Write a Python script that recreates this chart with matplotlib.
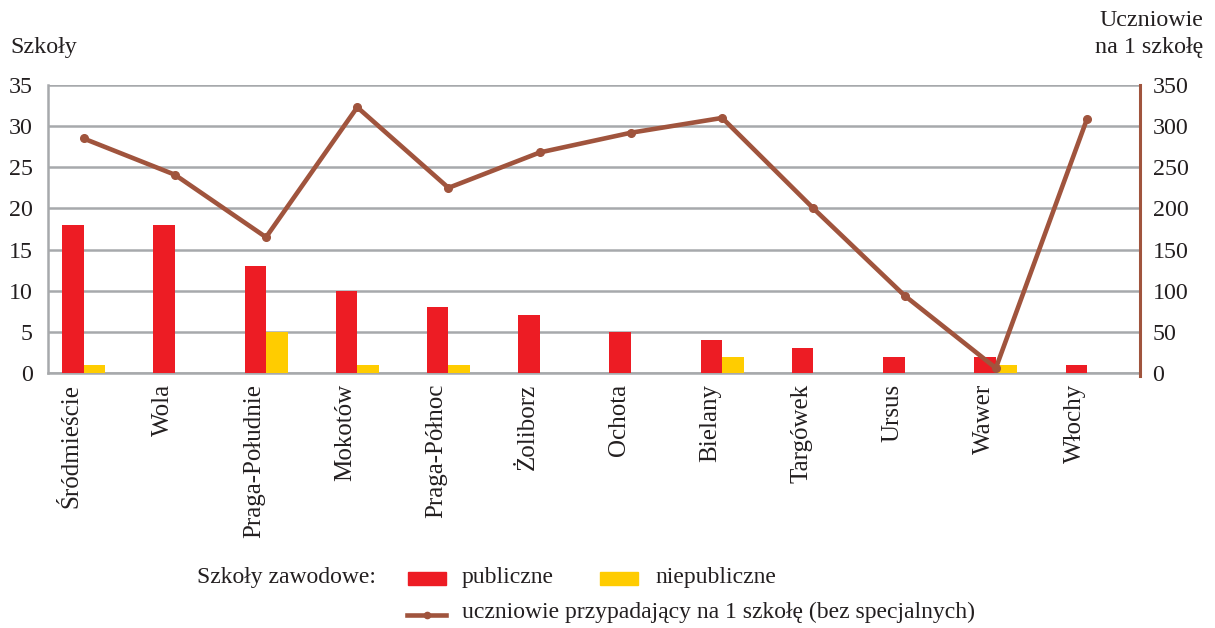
import matplotlib
matplotlib.use("Agg")
import matplotlib.pyplot as plt
from matplotlib.patches import Rectangle
from matplotlib.lines import Line2D
import numpy as np

plt.rcParams['font.family'] = ['Liberation Serif', 'DejaVu Serif']

districts = ["Śródmieście", "Wola", "Praga-Południe", "Mokotów", "Praga-Północ",
             "Żoliborz", "Ochota", "Bielany", "Targówek", "Ursus", "Wawer", "Włochy"]
publiczne = [18, 18, 13, 10, 8, 7, 5, 4, 3, 2, 2, 1]
niepubliczne = [1, 0, 5, 1, 1, 0, 0, 2, 0, 0, 1, 0]
uczniowie = [285, 241, 165, 323, 225, 268, 292, 310, 200, 94, 6, 309]
left_ticks = [0, 5, 10, 15, 20, 25, 30, 35]
right_ticks = [0, 50, 100, 150, 200, 250, 300, 350]

RED = "#ED1C24"
YEL = "#FFCC00"
BROWN = "#A0543D"
GRID = "#A7A9AC"
TXT = '#231F20'
FS = 17.3

fig = plt.figure(figsize=(12.15, 6.28), dpi=100)
ax = fig.add_axes([48/1215, 1-373/628, (1140-48)/1215, (373-85)/628])
x = np.arange(len(districts))
w = 0.236
ax.bar(x - w/2, publiczne, width=w, color=RED, zorder=3)
ax.bar(x + w/2, niepubliczne, width=w, color=YEL, zorder=3)
ax.set_ylim(0, 35)
ax.set_xlim(-0.39, 11.58)
ax.set_yticks(left_ticks)
ax.yaxis.grid(True, color=GRID, lw=1.8, zorder=0)
ax.set_axisbelow(True)
for s in ['top', 'right']:
    ax.spines[s].set_visible(False)
ax.spines['left'].set_color(GRID)
ax.spines['left'].set_linewidth(1.8)
ax.spines['bottom'].set_color(GRID)
ax.spines['bottom'].set_linewidth(1.8)
ax.tick_params(axis='y', length=0, labelsize=FS, pad=11, colors=TXT)
ax.set_xticks(x - 0.13)
ax.set_xticklabels(districts, rotation=90, fontsize=18, color=TXT)
ax.tick_params(axis='x', length=0, pad=8)

ax2 = ax.twinx()
ax2.plot(x, uczniowie, color=BROWN, lw=3.3, marker='o', ms=5.5, zorder=5)
ax2.set_ylim(0, 350)
ax2.set_yticks(right_ticks)
for s in ['top', 'left', 'bottom']:
    ax2.spines[s].set_visible(False)
ax2.spines['right'].set_color(BROWN)
ax2.spines['right'].set_linewidth(2.2)
ax2.spines['right'].set_bounds(-4, 350)
ax2.tick_params(axis='y', length=0, labelsize=FS, pad=9, colors=TXT)
ax2.set_ylim(0, 350)

fig.text(10/1215, 1-48/628, "Szkoły", fontsize=FS, va='center', ha='left', color=TXT)
fig.text(1203/1215, 1-20/628, "Uczniowie", fontsize=FS, va='center', ha='right', color=TXT)
fig.text(1203/1215, 1-48/628, "na 1 szkołę", fontsize=FS, va='center', ha='right', color=TXT)

# legend
LFS = 17
fig.text(197/1215, 1-578/628, "Szkoły zawodowe:", fontsize=LFS, va='center', ha='left', color=TXT)
fig.patches.append(Rectangle((408/1215, 1-585/628), 38/1215, 13/628, transform=fig.transFigure,
                             color=RED, figure=fig))
fig.text(462/1215, 1-578/628, "publiczne", fontsize=LFS, va='center', ha='left', color=TXT)
fig.patches.append(Rectangle((600/1215, 1-585/628), 38/1215, 13/628, transform=fig.transFigure,
                             color=YEL, figure=fig))
fig.text(655/1215, 1-578/628, "niepubliczne", fontsize=LFS, va='center', ha='left', color=TXT)
fig.lines.append(Line2D([407/1215, 446/1215], [1-615/628, 1-615/628], transform=fig.transFigure,
                        color=BROWN, lw=3.3, figure=fig))
fig.lines.append(Line2D([426.5/1215], [1-615/628], transform=fig.transFigure,
                        color=BROWN, marker='o', ms=4.5, figure=fig))
fig.text(462/1215, 1-612/628, "uczniowie przypadający na 1 szkołę (bez specjalnych)", fontsize=LFS,
         va='center', ha='left', color=TXT)

fig.savefig("out.png", dpi=100)
